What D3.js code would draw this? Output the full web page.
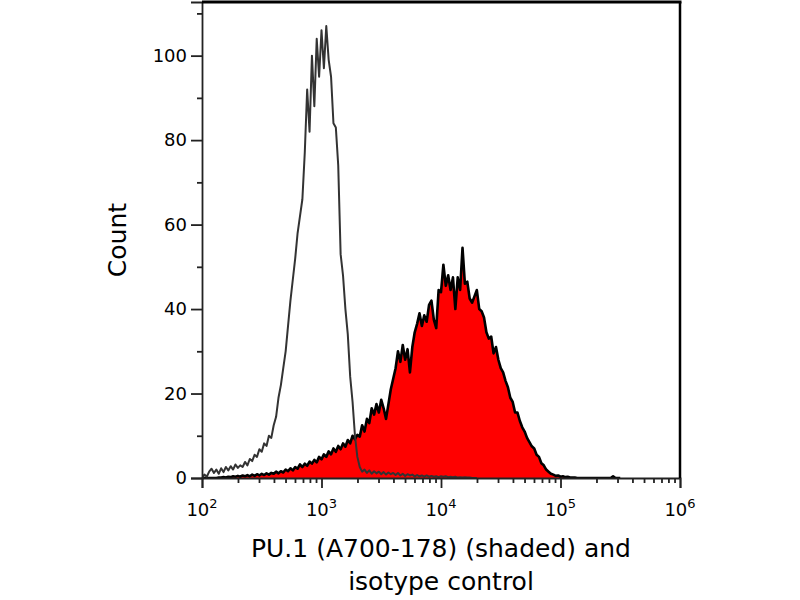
<!DOCTYPE html>
<html>
<head>
<meta charset="utf-8">
<script src="https://cdn.jsdelivr.net/npm/d3@7"></script>
<style>
  body { margin: 0; background: #fff; }
  text { font-family: "DejaVu Sans", sans-serif; fill: #000; }
</style>
</head>
<body>
<div id="chart"></div>
<script>
// Histogram channels: log10 of the first channel and the step between channels
var logStart = 2;
var logStep = 0.02;

// isotype control (open grey line)
var isotypeCounts = [
  0, 0.8, 0.3, 1.5, 2.2, 1.2, 2.0, 1.0, 2.3, 1.4,
  2.6, 1.8, 2.8, 2.0, 3.2, 2.4, 3.0, 2.6, 3.8, 3.0,
  4.5, 4.0, 5.5, 5.0, 6.8, 6.2, 8.2, 7.6, 10.0, 9.5,
  12.5, 14.5, 19, 22, 26, 30, 36, 42, 47, 52,
  58, 62, 66, 77, 92, 82, 100, 88, 104, 95,
  106, 97, 107, 99, 95, 84, 83, 74, 53, 48,
  40, 34, 24, 18, 10, 5, 2.6, 1.5, 2.0, 1.2,
  1.8, 1.0, 1.6, 1.1, 1.5, 0.9, 1.4, 0.8, 1.3, 0.9,
  1.2, 0.7, 1.2, 0.6, 1.0, 0.5, 0.9, 0.6, 0.8, 0.4,
  0.7, 0.4, 0.6, 0.3, 0.6, 0.3, 0.5, 0.3, 0.4, 0.2,
  0.4, 0.3, 0.4, 0.2, 0.3, 0.2, 0.3, 0.1, 0.2, 0.1,
  0.2, 0.1, 0.1, 0, 0, 0
];

// PU.1 (A700-178) stained (red shaded)
var pu1Counts = [
  0, 0, 0, 0, 0, 0, 0, 0.1, 0.1, 0.2,
  0.1, 0.3, 0.2, 0.4, 0.3, 0.5, 0.3, 0.6, 0.4, 0.7,
  0.4, 0.8, 0.5, 0.9, 0.6, 1.0, 0.7, 1.1, 0.8, 1.2,
  1.0, 1.5, 1.1, 1.6, 1.3, 2.0, 1.6, 2.3, 1.8, 2.6,
  2.2, 3.2, 2.6, 3.4, 2.9, 3.9, 3.4, 4.3, 3.7, 5.0,
  4.4, 5.6, 5.0, 6.3, 5.6, 7.0, 6.2, 7.6, 6.8, 8.2,
  7.4, 9.0, 8.2, 10.0, 9.2, 10.2, 9.8, 12.5, 11.0, 14.0,
  13.0, 16.5, 15.0, 17.5, 15.5, 18.5, 16.5, 14.0, 17.5, 21.0,
  23.5, 26.0, 30.0, 27.5, 31.5, 28.0, 30.5, 25.0, 31.0, 34.5,
  36.5, 39.0, 36.0, 38.5, 37.0, 41.0, 42.0, 37.5, 35.5, 44.5,
  44.0, 50.5, 45.5, 48.0, 44.5, 47.5, 40.0, 47.5, 44.5, 54.5,
  46.0, 46.5, 42.5, 41.5, 43.0, 44.5, 40.0, 39.5, 38.0, 34.5,
  33.0, 33.5, 29.5, 31.0, 28.0, 26.0, 25.0, 23.0, 21.5, 19.0,
  18.0, 15.5, 15.5, 13.5, 12.0, 11.0, 9.5, 8.5, 7.5, 7.0,
  5.5, 5.0, 3.5, 3.0, 2.0, 1.5, 1.0, 0.8, 0.5, 0.6,
  0.3, 0.4, 0.2, 0.3, 0.1, 0.1, 0.1, 0, 0, 0,
  0, 0, 0, 0, 0, 0, 0, 0, 0, 0,
  0, 0, 0.4, 0, 0, 0
];

var xDecades = [100, 1000, 10000, 100000, 1000000];
var xDecadeExponents = ["2", "3", "4", "5", "6"];
var yMajorTicks = [0, 20, 40, 60, 80, 100];
var yMinorTicks = [10, 30, 50, 70, 90, 110];
var yTitle = "Count";
var xTitleLines = ["PU.1 (A700-178) (shaded) and", "isotype control"];

var svgWidth = 800;
var svgHeight = 600;

var plot = { left: 202, right: 680, top: 2, bottom: 478 };

var svg = d3.select("#chart")
  .append("svg")
  .attr("width", svgWidth)
  .attr("height", svgHeight);

// scales
var xScale = d3.scaleLog()
  .domain([100, 1000000])
  .range([plot.left, plot.right]);

var yScale = d3.scaleLinear()
  .domain([0, 112.7])
  .range([plot.bottom, plot.top]);

// turn count arrays into channel/count pairs
function toPoints(counts) {
  return counts.map(function(c, i) {
    return { v: Math.pow(10, logStart + i * logStep), c: c };
  });
}
var isotypeData = toPoints(isotypeCounts);
var pu1Data = toPoints(pu1Counts);

svg.append("clipPath")
  .attr("id", "plotClip")
  .append("rect")
  .attr("x", plot.left)
  .attr("y", plot.top)
  .attr("width", plot.right - plot.left)
  .attr("height", plot.bottom - plot.top);

var curves = svg.append("g").attr("clip-path", "url(#plotClip)");

var area = d3.area()
  .x(function(d) { return xScale(d.v); })
  .y0(yScale(0))
  .y1(function(d) { return yScale(d.c); });

var line = d3.line()
  .x(function(d) { return xScale(d.v); })
  .y(function(d) { return yScale(d.c); });

// shaded PU.1 histogram
curves.append("path")
  .datum(pu1Data)
  .attr("d", area)
  .attr("fill", "#ff0000");

curves.append("path")
  .datum(pu1Data)
  .attr("d", line)
  .attr("fill", "none")
  .attr("stroke", "#000")
  .attr("stroke-width", 2.6)
  .attr("stroke-linejoin", "round");

// isotype control on top
curves.append("path")
  .datum(isotypeData)
  .attr("d", line)
  .attr("fill", "none")
  .attr("stroke", "#333")
  .attr("stroke-width", 2)
  .attr("stroke-linejoin", "round");

// axes
var leftAxis = d3.axisLeft(yScale)
  .tickValues(yMajorTicks)
  .tickSize(11)
  .tickPadding(4)
  .tickFormat(d3.format("d"));

var leftMinor = d3.axisLeft(yScale)
  .tickValues(yMinorTicks)
  .tickSize(5)
  .tickFormat("");

var bottomAxis = d3.axisBottom(xScale)
  .tickValues(xDecades)
  .tickSize(10)
  .tickFormat("");

var bottomMinor = d3.axisBottom(xScale)
  .tickValues(xScale.ticks().filter(function(t) { return xDecades.indexOf(t) < 0; }))
  .tickSize(5)
  .tickFormat("");

function styleAxis(g) {
  g.select(".domain").attr("stroke", "#222").attr("stroke-width", 1.8);
  g.selectAll(".tick line").attr("stroke", "#222").attr("stroke-width", 1.8);
  g.selectAll(".tick text").attr("font-size", 18).attr("fill", "#000")
    .style("font-family", "'DejaVu Sans', sans-serif");
}

svg.append("g")
  .attr("transform", "translate(" + plot.left + ",0)")
  .call(leftAxis)
  .call(styleAxis);

svg.append("g")
  .attr("transform", "translate(" + plot.left + ",0)")
  .call(leftMinor)
  .call(styleAxis)
  .select(".domain").remove();

svg.append("g")
  .attr("transform", "translate(0," + plot.bottom + ")")
  .call(bottomAxis)
  .call(styleAxis);

svg.append("g")
  .attr("transform", "translate(0," + plot.bottom + ")")
  .call(bottomMinor)
  .call(styleAxis)
  .select(".domain").remove();

// decade labels with superscripts
var decadeLabels = svg.append("g")
  .selectAll("text")
  .data(xDecades)
  .enter()
  .append("text")
  .attr("x", function(d) { return xScale(d); })
  .attr("y", plot.bottom + 38)
  .attr("text-anchor", "middle")
  .attr("font-size", 18);

decadeLabels.append("tspan").text("10");
decadeLabels.append("tspan")
  .attr("dy", -8)
  .attr("font-size", 13)
  .text(function(d, i) { return xDecadeExponents[i]; });

// frame: top and right
svg.append("line")
  .attr("x1", plot.left).attr("x2", plot.right + 1.5)
  .attr("y1", plot.top).attr("y2", plot.top)
  .attr("stroke", "#000").attr("stroke-width", 3);

svg.append("line")
  .attr("x1", plot.right).attr("x2", plot.right)
  .attr("y1", plot.top).attr("y2", plot.bottom)
  .attr("stroke", "#000").attr("stroke-width", 2.5);

// axis titles
svg.append("text")
  .attr("transform", "translate(126," + ((plot.top + plot.bottom) / 2) + ") rotate(-90)")
  .attr("text-anchor", "middle")
  .attr("font-size", 25)
  .text(yTitle);

svg.append("g")
  .selectAll("text")
  .data(xTitleLines)
  .enter()
  .append("text")
  .attr("x", (plot.left + plot.right) / 2)
  .attr("y", function(d, i) { return 557 + i * 33; })
  .attr("text-anchor", "middle")
  .attr("font-size", 25)
  .text(function(d) { return d; });
</script>
</body>
</html>
